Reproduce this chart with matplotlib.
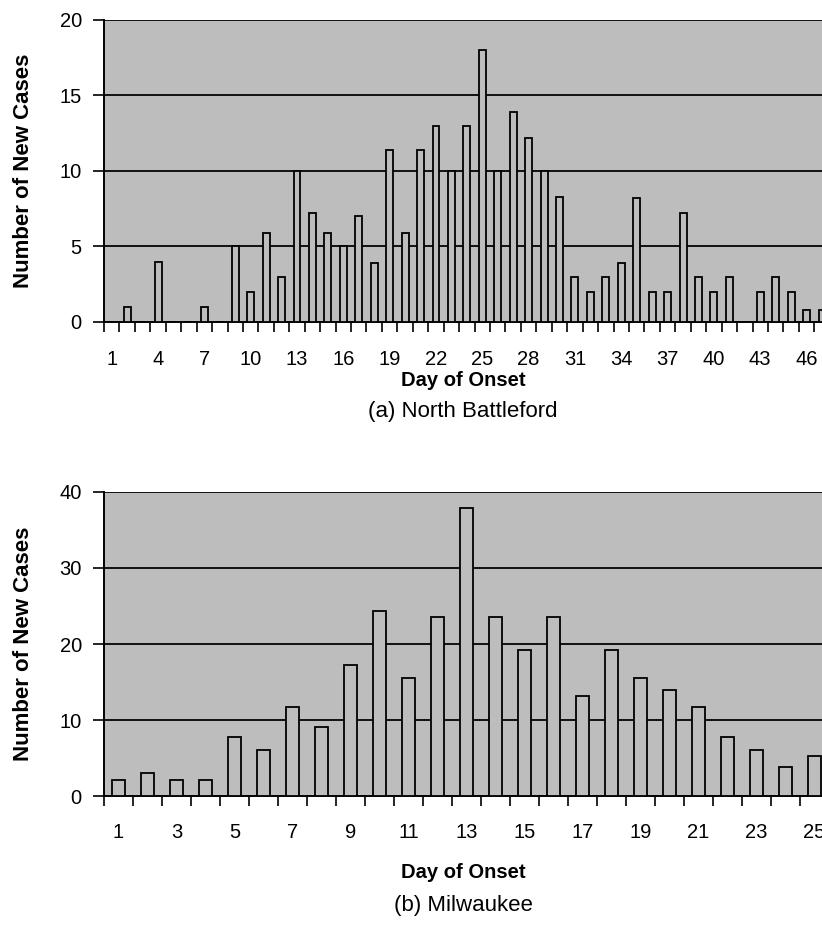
import numpy as np
import matplotlib
matplotlib.use("Agg")
import matplotlib.pyplot as plt
from matplotlib.ticker import FixedLocator

plt.rcParams['font.family'] = ['Liberation Sans', 'DejaVu Sans']

# (a) North Battleford - new cases per day of onset
nb_days = list(range(1, 48))
nb_cases = [0, 1, 0, 4, 0, 0, 1, 0, 5, 2,
            5.9, 3, 10, 7.2, 5.9, 5, 7, 3.9, 11.4, 5.9,
            11.4, 13, 10, 13, 18, 10, 13.9, 12.2, 10, 8.3,
            3, 2, 3, 3.9, 8.2, 2, 2, 7.2, 3, 2,
            3, 0, 2, 3, 2, 0.8, 0.8]
nb_ticklabels = list(range(1, 47, 3))

# (b) Milwaukee - new cases per day of onset
mw_days = list(range(1, 26))
mw_cases = [2.1, 3, 2.1, 2.1, 7.7, 6, 11.7, 9.1, 17.3, 24.3,
            15.5, 23.5, 37.9, 23.5, 19.2, 23.5, 13.1, 19.2, 15.5, 14,
            11.7, 7.7, 6, 3.8, 5.2]
mw_ticklabels = list(range(1, 26, 2))

bg = '#bdbdbd'
W, H = 822, 926
fig = plt.figure(figsize=(W / 100, H / 100), dpi=100)


def panel(rect, days, cases, ticklabels, ymax, ystep, xmax, label_pad, xlab_y, title_y, title):
    ax = fig.add_axes(rect)
    ax.set_facecolor(bg)
    ax.bar(days, cases, width=0.45, color=bg, edgecolor='black', linewidth=1.3, zorder=3)
    ax.set_xlim(0.5, xmax)
    ax.set_ylim(0, ymax)
    yt = np.arange(0, ymax + 1, ystep)
    ax.set_yticks(yt)
    ax.set_yticklabels([str(int(v)) for v in yt], fontsize=14.5)
    for v in yt[1:]:
        ax.axhline(v, color='#111111', linewidth=1.4, zorder=1)
    # tick marks sit between the categories, labels under the bars
    ax.xaxis.set_major_locator(FixedLocator(np.arange(0.5, len(days) + 1, 1)))
    ax.xaxis.set_minor_locator(FixedLocator(ticklabels))
    ax.set_xticklabels([])
    ax.set_xticklabels([str(d) for d in ticklabels], minor=True, fontsize=14.5)
    ax.tick_params(axis='x', which='major', direction='out', length=7, width=1.2, color='black')
    ax.tick_params(axis='x', which='minor', length=0, pad=label_pad)
    ax.tick_params(axis='y', direction='out', length=8, width=1.2, pad=8)
    for s in ['top', 'right']:
        ax.spines[s].set_visible(False)
    ax.spines['left'].set_linewidth(1.4)
    ax.spines['bottom'].set_linewidth(1.4)
    ax.set_ylabel('Number of New Cases', fontsize=16, fontweight='bold')
    ax.yaxis.set_label_coords(-0.097, 0.5)
    fig.text(463 / W, 1 - xlab_y / H, 'Day of Onset', ha='center', va='center',
             fontsize=14.5, fontweight='bold')
    fig.text(463 / W, 1 - title_y / H, title, ha='center', va='center', fontsize=16)
    return ax


panel([104 / W, 1 - 322 / H, 1 - 104 / W, 302 / H], nb_days, nb_cases, nb_ticklabels,
      20, 5, 47.0, 20, 381, 412, '(a) North Battleford')
panel([104 / W, 1 - 796 / H, 1 - 104 / W, 304 / H], mw_days, mw_cases, mw_ticklabels,
      40, 10, 25.26, 19.5, 873, 905, '(b) Milwaukee')

plt.savefig('out.png', dpi=100, facecolor='white')
